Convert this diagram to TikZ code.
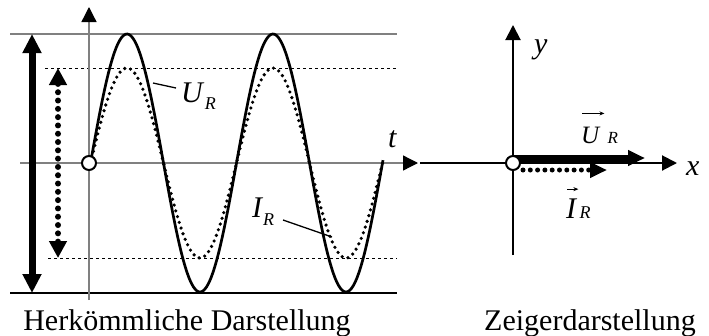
\documentclass[tikz,border=0pt]{standalone}
\usepackage{fontspec}
\setmainfont{Liberation Serif}
\usetikzlibrary{positioning,arrows.meta}

\newcommand{\idxR}[2]{\hspace{#1}\raisebox{#2}{\fontsize{18}{19}\selectfont\itshape R}}

\begin{document}
\begin{tikzpicture}[
    x=1pt, y=-1pt,
    axis/.style={draw=gray, line width=1.3pt, -{Triangle[color=black, length=15pt, width=15pt]}},
    phasoraxis/.style={draw, line width=2pt, -{Triangle[length=15pt, width=15pt]}},
    helpline/.style={draw=gray, line width=1.3pt},
    guide/.style={draw, line width=1pt, dash pattern=on 3pt off 3pt},
    wave/.style={line width=2.7pt},
    dotwave/.style={line width=3.6pt, line cap=round, dash pattern=on 0pt off 6pt},
    bigarrow/.style={line width=7pt, {Triangle[length=19pt, width=18pt]}-{Triangle[length=19pt, width=18pt]}},
    dotarrow/.style={line width=6pt, line cap=round, dash pattern=on 0pt off 8.3pt, {Triangle[length=17pt, width=17pt]}-{Triangle[length=17pt, width=17pt]}},
    lbl/.style={font=\fontsize{30}{32}\selectfont\itshape, inner sep=0pt, anchor=base west},
    sublbl/.style={font=\fontsize{18}{19}\selectfont\itshape, inner sep=0pt, anchor=base west},
    vecarrow/.style={line width=0.8pt, -{Stealth[length=5pt, width=4pt]}},
    caption/.style={font=\fontsize{30}{32}\selectfont, inner sep=0pt, anchor=base},
    origin/.style={circle, draw, fill=white, line width=2pt, minimum size=14pt, inner sep=0pt},
    leader/.style={line width=1.3pt}
]
    \useasboundingbox (0,0) rectangle (709,335);

    % herkoemmliche Darstellung
    \coordinate (top0) at (10,34);
    \coordinate (top1) at (397,34);
    \coordinate (bot0) at (10,293);
    \coordinate (bot1) at (397,293);
    \coordinate (utop0) at (45,68);
    \coordinate (utop1) at (397,68);
    \coordinate (ubot0) at (48,258);
    \coordinate (ubot1) at (397,258);
    \coordinate (vax0) at (89,300);
    \coordinate (vax1) at (89,7);
    \coordinate (tax0) at (20,163);
    \coordinate (tax1) at (418,163);

    \draw[helpline] (top0) -- (top1);
    \draw[line width=1.3pt] (bot0) -- (bot1);
    \draw[guide] (utop0) -- (utop1);
    \draw[guide] (ubot0) -- (ubot1);
    \draw[axis] (vax0) -- (vax1);
    \draw[axis] (tax0) -- (tax1);

    \draw[dotwave] plot[domain=90.5:383, samples=160, smooth] (\x, {163-95*sin((\x-90.5)*2.4658)});
    \draw[wave] plot[domain=90.5:383, samples=160, smooth] (\x, {163-129*sin((\x-90.5)*2.4658)});

    \coordinate (hi0) at (32,34);
    \coordinate (hi1) at (32,293);
    \coordinate (lo0) at (58,68);
    \coordinate (lo1) at (58,258);
    \draw[bigarrow] (hi0) -- (hi1);
    \draw[dotarrow] (lo0) -- (lo1);

    \node[origin] (start) at (89,163) {};

    \node[lbl] (uwave) at (181,102) {U\idxR{2pt}{-7pt}};
    \node[lbl] (iwave) at (252,217) {I\idxR{1pt}{-8pt}};
    \node[lbl] (tlbl) at (388,147) {t};
    \coordinate (ucurve) at (153,83);
    \coordinate (uend) at (176,88);
    \coordinate (iend) at (283,220);
    \coordinate (icurve) at (332,237);
    \draw[leader] (ucurve) -- (uend);
    \draw[leader] (iend) -- (icurve);

    % Zeigerdarstellung
    \coordinate (yax0) at (513,255);
    \coordinate (yax1) at (513,25);
    \coordinate (xax0) at (420,163);
    \coordinate (xax1) at (677,163);
    \draw[phasoraxis] (yax0) -- (yax1);
    \draw[phasoraxis] (xax0) -- (xax1);

    \coordinate (u0) at (513,158);
    \coordinate (u1) at (645,158);
    \coordinate (i0) at (523,170);
    \coordinate (i1) at (607,170);
    \draw[line width=7pt, -{Triangle[length=17pt, width=15pt]}] (u0) -- (u1);
    \draw[line width=5pt, line cap=round, dash pattern=on 0pt off 7.3pt, -{Triangle[length=17pt, width=15pt]}] (i0) -- (i1);

    \node[origin] (o) at (513,163) {};

    \node[lbl] (ylbl) at (534,53) {y};
    \node[lbl] (xlbl) at (686,175) {x};
    \node[lbl, font=\fontsize{25}{27}\selectfont\itshape] (uvec) at (581,143) {U};
    \node[sublbl, font=\fontsize{17}{18}\selectfont\itshape] (uvecR) at ([xshift=8pt]uvec.base east) {R};
    \node[lbl] (ivec) at (566,218) {I};
    \node[sublbl] (ivecR) at ([xshift=3pt]ivec.base east) {R};
    \draw[vecarrow] ([yshift=13pt, xshift=1pt]uvec.north west) -- ([yshift=13pt, xshift=5pt]uvec.north east);
    \draw[vecarrow] ([yshift=9pt, xshift=1pt]ivec.north west) -- ([yshift=9pt, xshift=2pt]ivec.north east);

    \node[caption] (cap1) at (187,330) {Herkömmliche Darstellung};
    \node[caption] (cap2) at (590,330) {Zeigerdarstellung};
\end{tikzpicture}
\end{document}
